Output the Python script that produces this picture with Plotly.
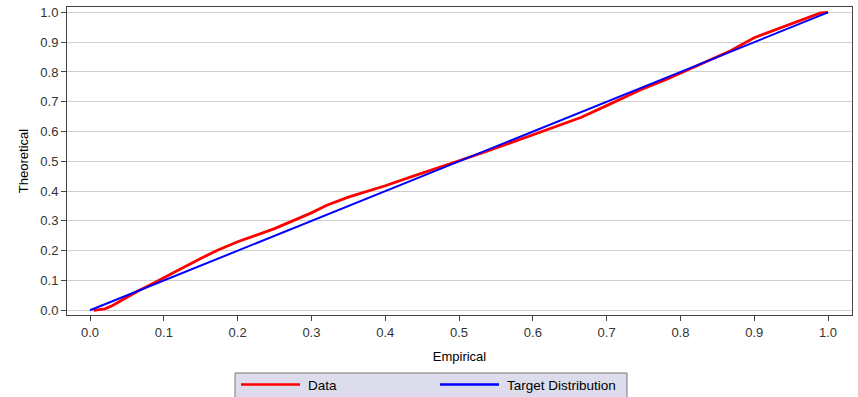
import plotly.graph_objects as go

# Empirical vs theoretical (P-P plot) readings
data_x = [0.005, 0.01, 0.02, 0.03, 0.04, 0.05, 0.065, 0.08, 0.10, 0.12, 0.15, 0.172, 0.20,
          0.25, 0.30, 0.32, 0.35, 0.40, 0.44, 0.47, 0.50, 0.53, 0.58, 0.62, 0.665, 0.70,
          0.746, 0.78, 0.832, 0.868, 0.90, 0.945, 0.968, 0.99, 1.0]
data_y = [0.0, 0.001, 0.005, 0.015, 0.029, 0.044, 0.065, 0.083, 0.108, 0.135, 0.174, 0.201, 0.230,
          0.274, 0.327, 0.352, 0.380, 0.418, 0.452, 0.478, 0.502, 0.527, 0.572, 0.608, 0.647, 0.687,
          0.740, 0.774, 0.832, 0.871, 0.915, 0.957, 0.979, 0.998, 1.0]
target_x = [0.0, 1.0]
target_y = [0.0, 1.0]
tick_vals = [0.0, 0.1, 0.2, 0.3, 0.4, 0.5, 0.6, 0.7, 0.8, 0.9, 1.0]
series_names = ["Data", "Target Distribution"]
series_colors = ["#ff0000", "#0000ff"]

W, H = 858, 397
ML, MR, MT, MB = 67, 6, 7, 82
PW, PH = W - ML - MR, H - MT - MB

def px_x(p):
    return (p - ML) / PW

def px_y(p):
    return (H - MB - p) / PH

fig = go.Figure()
fig.add_trace(go.Scatter(x=data_x, y=data_y, mode="lines", name=series_names[0],
                         line=dict(color=series_colors[0], width=2.8), showlegend=False))
fig.add_trace(go.Scatter(x=target_x, y=target_y, mode="lines", name=series_names[1],
                         line=dict(color=series_colors[1], width=2), showlegend=False))

font = "Liberation Sans, Arial, sans-serif"
axis_common = dict(
    tickvals=tick_vals, tickformat=".1f", ticks="outside", ticklen=5, tickcolor="#444",
    showline=True, mirror=True, linecolor="#444", linewidth=1, zeroline=False,
    tickfont=dict(family=font, size=13, color="#333"),
)
fig.update_xaxes(range=[-0.0312, 1.0325], showgrid=False,
                 title=dict(text="Empirical", font=dict(family=font, size=13, color="#000"), standoff=13),
                 **axis_common)
fig.update_yaxes(range=[-0.0158, 1.018], showgrid=True, gridcolor="#d0d0d0", gridwidth=1,
                 title=dict(text="Theoretical", font=dict(family=font, size=13, color="#000"), standoff=8),
                 **axis_common)

# Legend box drawn manually (partly cut off at the bottom edge as in the reference)
shapes = [dict(type="rect", xref="paper", yref="paper",
               x0=px_x(235), x1=px_x(627), y0=px_y(373), y1=px_y(402),
               fillcolor="#dcdcec", line=dict(color="#777", width=1), layer="above")]
annotations = []
entries = [(241, 300, 306), (440, 499, 505)]
for (lx0, lx1, tx), name, col in zip(entries, series_names, series_colors):
    shapes.append(dict(type="line", xref="paper", yref="paper",
                       x0=px_x(lx0), x1=px_x(lx1), y0=px_y(384.5), y1=px_y(384.5),
                       line=dict(color=col, width=2.5)))
    annotations.append(dict(text=name, xref="paper", yref="paper", x=px_x(tx), y=px_y(385),
                            xanchor="left", yanchor="middle", showarrow=False,
                            font=dict(family=font, size=13.5, color="#000")))

fig.update_layout(
    width=W, height=H,
    margin=dict(l=ML, r=MR, t=MT, b=MB),
    paper_bgcolor="white", plot_bgcolor="white",
    font=dict(family=font, size=13, color="#000"),
    showlegend=False,
    shapes=shapes, annotations=annotations,
)

fig.write_html("out.html")
